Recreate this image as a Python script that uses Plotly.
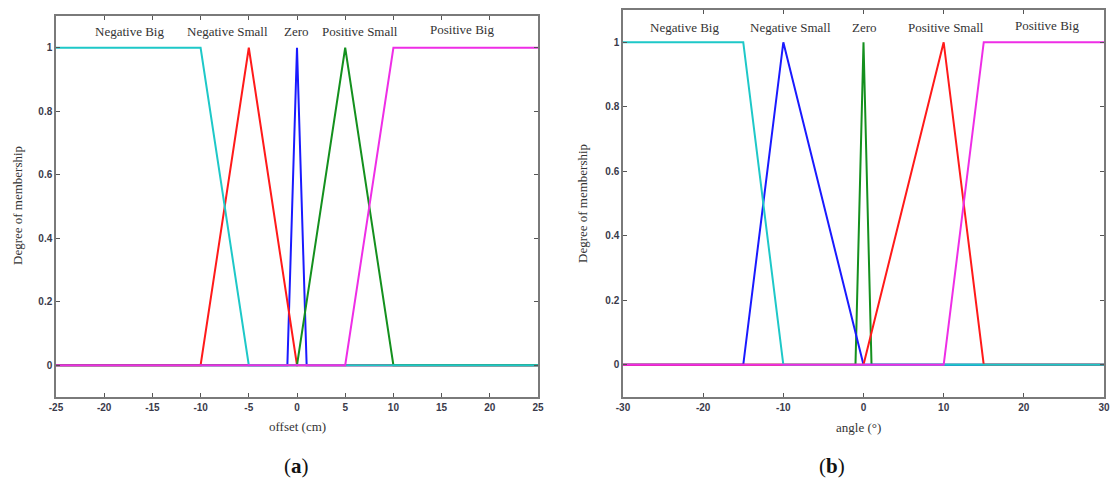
import plotly.graph_objects as go

W, H = 1112, 485

# ---------------- data ----------------
mf_names = ["Negative Big", "Negative Small", "Zero", "Positive Small", "Positive Big"]

# (a) offset (cm)
a_nb_x = [-25, -10, -5, 25];   a_nb_y = [1, 1, 0, 0]
a_ns_x = [-25, -10, -5, 0, 25]; a_ns_y = [0, 0, 1, 0, 0]
a_ze_x = [-25, -1, 0, 1, 25];   a_ze_y = [0, 0, 1, 0, 0]
a_ps_x = [-25, 0, 5, 10, 25];   a_ps_y = [0, 0, 1, 0, 0]
a_pb_x = [-25, 5, 10, 25];      a_pb_y = [0, 0, 1, 1]

# (b) angle (deg)
b_nb_x = [-30, -15, -10, 30];   b_nb_y = [1, 1, 0, 0]
b_ns_x = [-30, -15, -10, 0, 30]; b_ns_y = [0, 0, 1, 0, 0]
b_ze_x = [-30, -1, 0, 1, 30];   b_ze_y = [0, 0, 1, 0, 0]
b_ps_x = [-30, 0, 10, 15, 30];  b_ps_y = [0, 0, 1, 0, 0]
b_pb_x = [-30, 10, 15, 30];     b_pb_y = [0, 0, 1, 1]

a_xticks = [-25, -20, -15, -10, -5, 0, 5, 10, 15, 20, 25]
b_xticks = [-30, -20, -10, 0, 10, 20, 30]
y_ticks = [0, 0.2, 0.4, 0.6, 0.8, 1]
y_ticklabels = ["0", "0.2", "0.4", "0.6", "0.8", "1"]

# ---------------- styles ----------------
CYAN = "#1ec8c8"
RED = "#ff1a1a"
BLUE = "#1a1aff"
GREEN = "#14901e"
MAG = "#ee2ee6"
LW = 2

fig = go.Figure()

def add(x, y, color, xa, ya):
    fig.add_trace(go.Scatter(x=x, y=y, mode="lines", line=dict(color=color, width=LW),
                             xaxis=xa, yaxis=ya, showlegend=False, hoverinfo="skip"))

# panel (a)
add(a_ze_x, a_ze_y, BLUE, "x", "y")
add(a_ns_x, a_ns_y, RED, "x", "y")
add(a_ps_x, a_ps_y, GREEN, "x", "y")
add(a_nb_x, a_nb_y, CYAN, "x", "y")
add(a_pb_x, a_pb_y, MAG, "x", "y")

# panel (b)
add(b_ze_x, b_ze_y, GREEN, "x2", "y2")
add(b_ns_x, b_ns_y, BLUE, "x2", "y2")
add(b_ps_x, b_ps_y, RED, "x2", "y2")
add(b_nb_x, b_nb_y, CYAN, "x2", "y2")
add(b_pb_x, b_pb_y, MAG, "x2", "y2")

tickfont = dict(family="Liberation Sans, Arial", size=10, color="#3a3a4a", weight="bold")
frame = dict(showline=True, linecolor="#7a7a7a", linewidth=1.5, mirror="allticks",
             ticks="inside", ticklen=4, tickcolor="#555555", tickwidth=1,
             showgrid=False, zeroline=False, tickfont=tickfont, automargin=False,
             ticklabeloverflow="allow")

def px2x(px):
    return px / W

def px2y(py):
    return 1 - py / H

fig.update_layout(
    width=W, height=H, margin=dict(l=0, r=0, t=0, b=0, autoexpand=False),
    paper_bgcolor="white", plot_bgcolor="white",
    xaxis=dict(domain=[px2x(56), px2x(538)], range=[-25, 25], tickvals=a_xticks,
               ticktext=[str(v) for v in a_xticks], anchor="y", **frame),
    yaxis=dict(domain=[px2y(397), px2y(16)], range=[-0.1, 1.1], tickvals=y_ticks,
               ticktext=y_ticklabels, anchor="x", **frame),
    xaxis2=dict(domain=[px2x(623), px2x(1104)], range=[-30, 30], tickvals=b_xticks,
                ticktext=[str(v) for v in b_xticks], anchor="y2", **frame),
    yaxis2=dict(domain=[px2y(397), px2y(10)], range=[-0.1, 1.1], tickvals=y_ticks,
                ticktext=y_ticklabels, anchor="x2", **frame),
)

serif = "Liberation Serif, Times New Roman, serif"
lblfont = dict(family=serif, size=13, color="#333333")

# membership label placement (data units)
a_lbl_pos = [(-17.4, 1.05), (-7.2, 1.05), (-0.05, 1.05), (6.5, 1.05), (17.1, 1.057)]
b_lbl_pos = [(-22.3, 1.047), (-9.05, 1.047), (0.1, 1.047), (10.25, 1.047), (22.9, 1.053)]
for name, (xx, yy) in zip(mf_names, a_lbl_pos):
    fig.add_annotation(x=xx, y=yy, xref="x", yref="y", text=name, showarrow=False,
                       font=lblfont, xanchor="center", yanchor="middle")
for name, (xx, yy) in zip(mf_names, b_lbl_pos):
    fig.add_annotation(x=xx, y=yy, xref="x2", yref="y2", text=name, showarrow=False,
                       font=lblfont, xanchor="center", yanchor="middle")

titlefont = dict(family=serif, size=13, color="#333333")
fig.add_annotation(x=px2x(297), y=px2y(426), xref="paper", yref="paper", text="offset (cm)",
                   showarrow=False, font=titlefont, xanchor="center", yanchor="middle")
fig.add_annotation(x=px2x(858), y=px2y(427), xref="paper", yref="paper", text="angle (°)",
                   showarrow=False, font=titlefont, xanchor="center", yanchor="middle")
fig.add_annotation(x=px2x(17), y=px2y(206), xref="paper", yref="paper", text="Degree of membership",
                   showarrow=False, font=titlefont, textangle=-90, xanchor="center", yanchor="middle")
fig.add_annotation(x=px2x(582), y=px2y(204), xref="paper", yref="paper", text="Degree of membership",
                   showarrow=False, font=titlefont, textangle=-90, xanchor="center", yanchor="middle")

capfont = dict(family=serif, size=21, color="#111111")
fig.add_annotation(x=px2x(296), y=px2y(466), xref="paper", yref="paper", text="(<b>a</b>)",
                   showarrow=False, font=capfont, xanchor="center", yanchor="middle")
fig.add_annotation(x=px2x(832), y=px2y(466), xref="paper", yref="paper", text="(<b>b</b>)",
                   showarrow=False, font=capfont, xanchor="center", yanchor="middle")

fig.write_html("out.html")
